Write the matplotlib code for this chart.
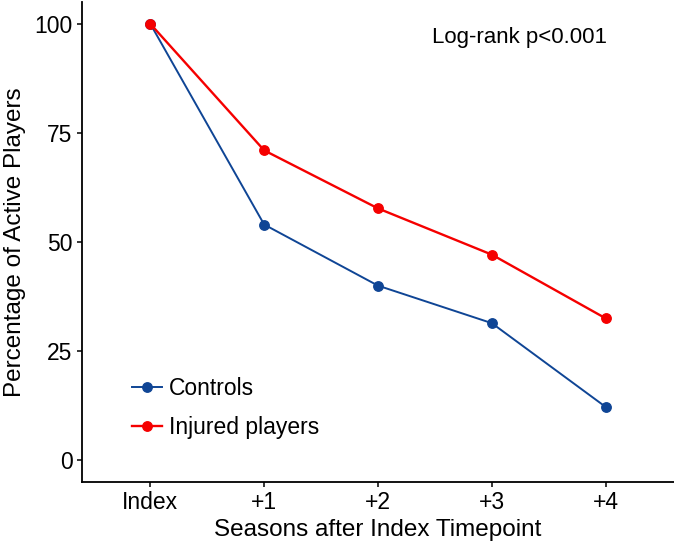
import matplotlib.pyplot as plt
import numpy as np

plt.rcParams['font.family'] = ['Liberation Sans', 'DejaVu Sans']

seasons = ['Index', '+1', '+2', '+3', '+4']
controls = [100, 54.0, 40.0, 31.4, 12.2]
injured = [100, 71.0, 57.7, 47.1, 32.5]
yticks = [0, 25, 50, 75, 100]

W, H = 674, 549
fig = plt.figure(figsize=(W / 100, H / 100), dpi=100)
ax = fig.add_axes([82 / W, 67 / H, 592 / W, 480 / H])

x = np.arange(len(seasons))
ax.plot(x, controls, '-o', color='#0f4595', linewidth=1.4, markersize=6.8,
        label='Controls')
ax.plot(x, injured, '-o', color='#f50000', linewidth=1.7, markersize=6.8,
        label='Injured players')

ax.set_xlim(-0.6, 4.6)
ax.set_ylim(-5, 105)
ax.set_xticks(x)
ax.set_xticklabels(seasons)
ax.set_yticks(yticks)

for s in ['top', 'right']:
    ax.spines[s].set_visible(False)
for s in ['left', 'bottom']:
    ax.spines[s].set_linewidth(1.3)
ax.tick_params(axis='both', labelsize=16.5, length=3.8, width=1.1,
               color='black', pad=3)

ax.set_xlabel('Seasons after Index Timepoint', fontsize=17.5, labelpad=3)
ax.set_ylabel('Percentage of Active Players', fontsize=17.5, labelpad=6)

ax.text(0.887, 0.925, 'Log-rank p<0.001', transform=ax.transAxes,
        fontsize=16, ha='right', va='center')

ax.legend(loc='center left', bbox_to_anchor=(0.0845, 0.155), frameon=False,
          fontsize=16.5, handlelength=1.3, handletextpad=0.3,
          labelspacing=0.7, borderpad=0, borderaxespad=0)

fig.savefig('out.png', dpi=100)
